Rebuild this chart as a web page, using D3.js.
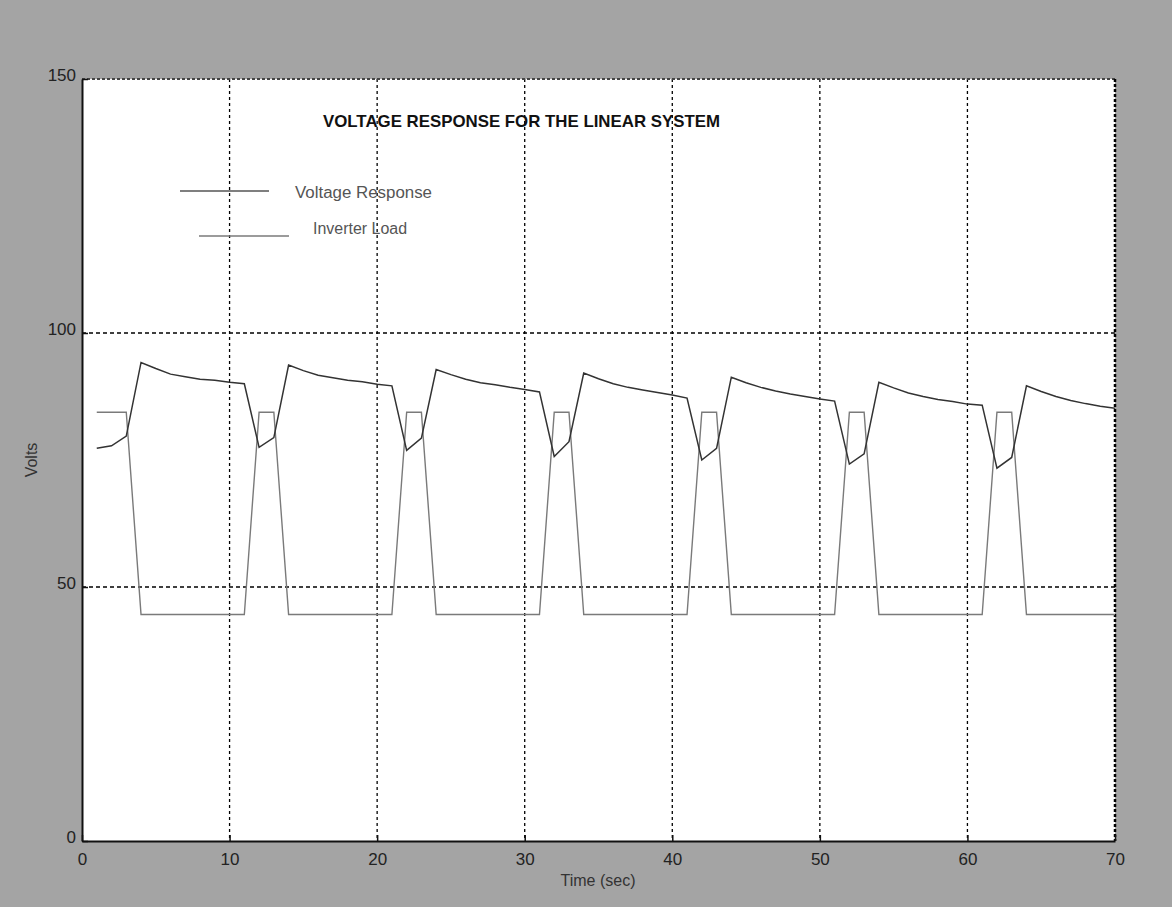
<!DOCTYPE html>
<html>
<head>
<meta charset="utf-8">
<script src="https://cdn.jsdelivr.net/npm/d3@7"></script>
<style>
body{margin:0;background:#a4a4a4;}
text{font-family:"Liberation Sans Narrow","Liberation Sans",Arial,sans-serif;}
</style>
</head>
<body>
<div id="chart"></div>
<script>
// sample times (sec)
var time = d3.range(1, 71)

var voltage = [77.3, 77.8, 79.7,
  94.2, 93.0, 91.9, 91.4, 90.9, 90.7, 90.3, 90.0, 77.5, 79.4,
  93.7, 92.6, 91.7, 91.2, 90.7, 90.4, 89.9, 89.6, 76.9, 79.3,
  92.8, 91.8, 90.9, 90.2, 89.8, 89.3, 88.9, 88.4, 75.7, 78.6,
  92.1, 91.0, 90.0, 89.3, 88.8, 88.3, 87.8, 87.2, 75.0, 77.3,
  91.3, 90.2, 89.3, 88.6, 88.0, 87.5, 87.0, 86.6, 74.2, 76.2,
  90.3, 89.2, 88.2, 87.5, 86.9, 86.5, 86.0, 85.8, 73.4, 75.5,
  89.6, 88.5, 87.5, 86.7, 86.1, 85.6, 85.2]

var H = 84.4, L = 44.6
var load = [H, H, H,
  L, L, L, L, L, L, L, L, H, H,
  L, L, L, L, L, L, L, L, H, H,
  L, L, L, L, L, L, L, L, H, H,
  L, L, L, L, L, L, L, L, H, H,
  L, L, L, L, L, L, L, L, H, H,
  L, L, L, L, L, L, L, L, H, H,
  L, L, L, L, L, L, L]

var xTicks = [0, 10, 20, 30, 40, 50, 60, 70]
var yTicks = [0, 50, 100, 150]
var legendNames = ['Voltage Response', 'Inverter Load']

var width = 1172, height = 907
var margin = {top: 79, right: 57, bottom: 66, left: 82}
var w = width - margin.left - margin.right
var h = height - margin.top - margin.bottom

var svg = d3.select('#chart')
  .append('svg')
  .attr('width', width)
  .attr('height', height)

svg.append('rect')
  .attr('width', width)
  .attr('height', height)
  .attr('fill', '#a4a4a4')

var g = svg.append('g')
  .attr('transform', 'translate(' + margin.left + ',' + margin.top + ')')

var x = d3.scaleLinear().domain([0, 70]).range([0, w])
var y = d3.scaleLinear().domain([0, 150]).range([h, 0])

g.append('rect')
  .attr('width', w)
  .attr('height', h)
  .attr('fill', 'white')

// grid
g.selectAll('.vgrid')
  .data(xTicks.slice(1, -1))
  .enter().append('line')
  .attr('x1', d => x(d)).attr('x2', d => x(d))
  .attr('y1', 0).attr('y2', h)
  .attr('stroke', 'black')
  .attr('stroke-width', 1.3)
  .attr('stroke-dasharray', '3,3')

g.selectAll('.hgrid')
  .data(yTicks.slice(1, -1))
  .enter().append('line')
  .attr('x1', 0).attr('x2', w)
  .attr('y1', d => y(d)).attr('y2', d => y(d))
  .attr('stroke', 'black')
  .attr('stroke-width', 1.3)
  .attr('stroke-dasharray', '4,3')

// box: solid left/bottom, dotted top/right
g.append('line').attr('x1', 0).attr('x2', w).attr('y1', 0).attr('y2', 0)
  .attr('stroke', '#444').attr('stroke-width', 2).attr('stroke-dasharray', '3,2')
g.append('line').attr('x1', w).attr('x2', w).attr('y1', 0).attr('y2', h)
  .attr('stroke', 'black').attr('stroke-width', 2.5).attr('stroke-dasharray', '3,2')

var xAxis = g.append('g')
  .attr('transform', 'translate(0,' + h + ')')
  .call(d3.axisBottom(x).tickValues(xTicks).tickSizeInner(-6).tickSizeOuter(0).tickPadding(12))
var yAxis = g.append('g')
  .call(d3.axisLeft(y).tickValues(yTicks).tickSizeInner(-6).tickSizeOuter(0).tickPadding(6))

svg.selectAll('.domain').attr('stroke', '#111').attr('stroke-width', 2)
svg.selectAll('.tick line').attr('stroke', '#111').attr('stroke-width', 1.5)
svg.selectAll('.tick text')
  .attr('fill', '#222')
  .style('font-size', '17px')
  .style('font-family', '"Liberation Sans Narrow","Liberation Sans",Arial,sans-serif')
yAxis.selectAll('.tick text').attr('dy', '0.1em')

// series
var line = d3.line()
  .x((d, i) => x(time[i]))
  .y(d => y(d))

g.append('path')
  .datum(load)
  .attr('d', line)
  .attr('fill', 'none')
  .attr('stroke', '#7a7a7a')
  .attr('stroke-width', 1.4)

g.append('path')
  .datum(voltage)
  .attr('d', line)
  .attr('fill', 'none')
  .attr('stroke', '#333')
  .attr('stroke-width', 1.5)

// title
svg.append('text')
  .attr('x', 323)
  .attr('y', 127)
  .attr('font-family', '"Liberation Sans",Arial,sans-serif')
  .attr('font-weight', 'bold')
  .attr('font-size', 17)
  .attr('textLength', 397)
  .attr('lengthAdjust', 'spacingAndGlyphs')
  .attr('fill', '#111')
  .text('VOLTAGE RESPONSE FOR THE LINEAR SYSTEM')

// legend
var legendLines = [[180, 269, 191, '#555'], [199, 289, 236, '#7a7a7a']]
var legendText = [[295, 198], [313, 234], [137, 94]]
legendNames.forEach(function (name, i) {
  svg.append('line')
    .attr('x1', legendLines[i][0]).attr('x2', legendLines[i][1])
    .attr('y1', legendLines[i][2]).attr('y2', legendLines[i][2])
    .attr('stroke', legendLines[i][3])
    .attr('stroke-width', 1.4)
  svg.append('text')
    .attr('x', legendText[i][0])
    .attr('y', legendText[i][1])
    .attr('font-size', 16)
    .attr('textLength', legendText[2][i])
    .attr('lengthAdjust', 'spacingAndGlyphs')
    .attr('fill', '#555')
    .text(name)
})

// axis labels
svg.append('text')
  .attr('transform', 'translate(37,' + 460 + ') rotate(-90)')
  .attr('text-anchor', 'middle')
  .attr('font-size', 16)
  .attr('fill', '#333')
  .text('Volts')

svg.append('text')
  .attr('x', 598)
  .attr('y', 886)
  .attr('text-anchor', 'middle')
  .attr('font-size', 16)
  .attr('fill', '#333')
  .text('Time (sec)')
</script>
</body>
</html>
